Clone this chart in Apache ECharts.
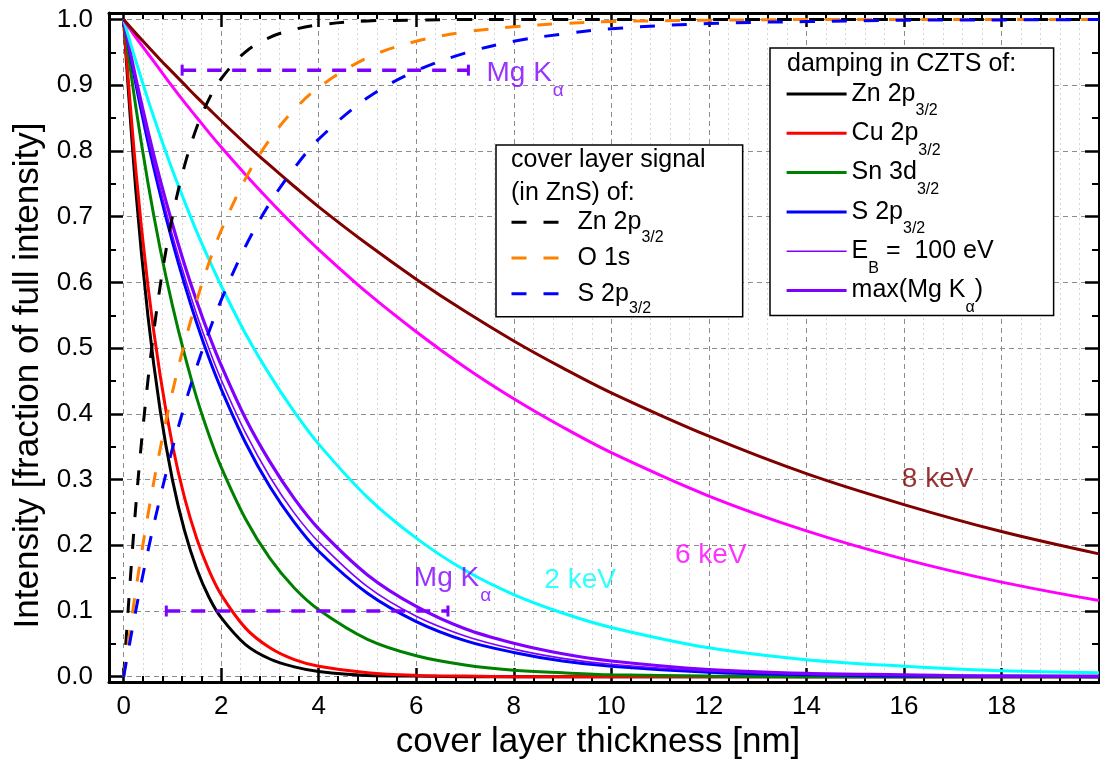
<!DOCTYPE html>
<html><head><meta charset="utf-8">
<script src="https://cdn.jsdelivr.net/npm/echarts@6/dist/echarts.min.js"></script>
<style>html,body{margin:0;padding:0;background:#fff}#chart{width:1100px;height:763px}</style>
</head><body><div id="chart"></div>
<script>
// ---- data ----
const thickness = [0, 0.25, 0.5, 0.75, 1, 1.25, 1.5, 1.75, 2, 2.5, 3, 3.5, 4, 5, 6, 7, 8, 9, 10, 12, 14, 16, 18, 20];

// damping in CZTS
const dampZn    = [1, 0.740, 0.548, 0.405, 0.300, 0.222, 0.164, 0.121, 0.090, 0.049, 0.027, 0.015, 0.008, 0.002, 0.001, 0, 0, 0, 0, 0, 0, 0, 0, 0];
const dampCu    = [1, 0.771, 0.594, 0.458, 0.353, 0.272, 0.210, 0.162, 0.125, 0.074, 0.044, 0.026, 0.016, 0.006, 0.002, 0.001, 0, 0, 0, 0, 0, 0, 0, 0];
const dampSn    = [1, 0.867, 0.751, 0.651, 0.565, 0.490, 0.424, 0.368, 0.319, 0.240, 0.180, 0.135, 0.102, 0.057, 0.032, 0.018, 0.010, 0.006, 0.003, 0.001, 0, 0, 0, 0];
const dampS     = [1, 0.902, 0.813, 0.734, 0.662, 0.597, 0.538, 0.485, 0.438, 0.356, 0.289, 0.235, 0.191, 0.127, 0.084, 0.055, 0.037, 0.024, 0.016, 0.007, 0.003, 0.001, 0.001, 0];
const damp100eV = [1, 0.906, 0.820, 0.743, 0.672, 0.609, 0.551, 0.499, 0.452, 0.371, 0.304, 0.249, 0.205, 0.137, 0.092, 0.062, 0.042, 0.028, 0.019, 0.009, 0.004, 0.002, 0.001, 0];
const dampMgKa  = [1, 0.911, 0.830, 0.756, 0.689, 0.627, 0.571, 0.520, 0.474, 0.393, 0.327, 0.271, 0.225, 0.155, 0.107, 0.073, 0.051, 0.035, 0.024, 0.011, 0.005, 0.003, 0.001, 0.001];
const damp2keV  = [1, 0.937, 0.878, 0.823, 0.771, 0.723, 0.677, 0.635, 0.595, 0.522, 0.459, 0.403, 0.354, 0.273, 0.211, 0.162, 0.125, 0.097, 0.075, 0.044, 0.026, 0.016, 0.009, 0.006];
const damp6keV  = [1, 0.973, 0.948, 0.923, 0.898, 0.874, 0.851, 0.828, 0.806, 0.764, 0.724, 0.686, 0.650, 0.584, 0.525, 0.471, 0.423, 0.380, 0.341, 0.275, 0.222, 0.179, 0.144, 0.116];
const damp8keV  = [1, 0.979, 0.959, 0.939, 0.920, 0.901, 0.882, 0.864, 0.846, 0.811, 0.778, 0.746, 0.715, 0.658, 0.605, 0.556, 0.511, 0.470, 0.432, 0.366, 0.309, 0.262, 0.221, 0.187];

// cover layer signal (in ZnS)
const coverZn = [0, 0.260, 0.452, 0.595, 0.700, 0.778, 0.836, 0.879, 0.910, 0.951, 0.973, 0.985, 0.992, 0.998, 0.999, 1, 1, 1, 1, 1, 1, 1, 1, 1];
const coverO  = [0, 0.132, 0.247, 0.347, 0.433, 0.508, 0.573, 0.630, 0.679, 0.758, 0.818, 0.863, 0.897, 0.942, 0.967, 0.981, 0.989, 0.994, 0.997, 0.999, 1, 1, 1, 1];
const coverS  = [0, 0.101, 0.192, 0.273, 0.347, 0.413, 0.472, 0.525, 0.573, 0.655, 0.721, 0.774, 0.818, 0.881, 0.922, 0.949, 0.967, 0.978, 0.986, 0.994, 0.997, 0.999, 0.9995, 1];

// Mg K-alpha ranges (x from, x to, y level)
const mgKaUpperRange = [[1.2, 0.923], [7.07, 0.923]];
const mgKaLowerRange = [[0.875, 0.1], [6.65, 0.1]];

// text annotations
const energyLabels = [
  { text: '8 keV', x: 16.69, y: 0.300 },
  { text: '6 keV', x: 12.04, y: 0.185 },
  { text: '2 keV', x: 9.36,  y: 0.147 }
];
const mgKaLabels = [
  { x: 7.44, y: 0.918 },
  { x: 5.95, y: 0.150 }
];

// ---- chart ----
const FONT = "'Liberation Sans', Arial, Helvetica, sans-serif";
const PURPLE = '#8000ff';
const chart = echarts.init(document.getElementById('chart'), null, { renderer: 'canvas' });
const pts = vals => thickness.map((x, i) => [x, vals[i]]);

const dampDefs = [
  { name: 'Zn 2p3/2',    vals: dampZn,    color: '#000000', width: 3 },
  { name: 'Cu 2p3/2',    vals: dampCu,    color: '#ff0000', width: 3 },
  { name: 'Sn 3d3/2',    vals: dampSn,    color: '#008000', width: 3 },
  { name: 'S 2p3/2',     vals: dampS,     color: '#0000ff', width: 3 },
  { name: 'EB = 100 eV', vals: damp100eV, color: PURPLE,    width: 1.6 },
  { name: 'max(Mg Ka)',  vals: dampMgKa,  color: PURPLE,    width: 3.2 },
  { name: '2 keV',       vals: damp2keV,  color: '#00ffff', width: 3 },
  { name: '6 keV',       vals: damp6keV,  color: '#ff00ff', width: 3 },
  { name: '8 keV',       vals: damp8keV,  color: '#800000', width: 3 }
];
const coverDefs = [
  { name: 'Zn 2p3/2 (ZnS)', vals: coverZn, color: '#000000' },
  { name: 'O 1s (ZnS)',     vals: coverO,  color: '#ff8000' },
  { name: 'S 2p3/2 (ZnS)',  vals: coverS,  color: '#0000ff' }
];
const energyColors = ['#800000', '#ff00ff', '#00ffff'];

const series = [];
dampDefs.forEach(d => series.push({
  type: 'line', name: d.name, data: pts(d.vals), symbol: 'none', smooth: 0.35,
  lineStyle: { color: d.color, width: d.width }, itemStyle: { color: d.color }, silent: true, z: 3
}));
coverDefs.forEach(d => series.push({
  type: 'line', name: d.name, data: pts(d.vals), symbol: 'none', smooth: 0.35,
  lineStyle: { color: d.color, width: 3, type: [15, 17] }, itemStyle: { color: d.color }, silent: true, z: 4
}));
[mgKaUpperRange, mgKaLowerRange].forEach(r => series.push({
  type: 'line', name: 'range', data: r, symbol: 'rect', symbolSize: [3, 11], showSymbol: true,
  lineStyle: { color: PURPLE, width: 3.5, type: [14, 11] }, itemStyle: { color: PURPLE }, silent: true, z: 5
}));
energyLabels.forEach((l, i) => series.push({
  type: 'scatter', name: 'lbl' + i, data: [[l.x, l.y]], symbolSize: 0, silent: true, z: 6,
  label: { show: true, position: 'inside', formatter: l.text, color: energyColors[i], fontSize: 28, fontFamily: FONT }
}));
mgKaLabels.forEach((l, i) => series.push({
  type: 'scatter', name: 'mg' + i, data: [[l.x, l.y]], symbolSize: 0, silent: true, z: 6,
  label: { show: true, position: 'right', distance: 0, formatter: '{m|Mg K}{s|α}',
    rich: { m: { fontSize: 28, color: PURPLE, fontFamily: FONT },
            s: { fontSize: 19, color: PURPLE, fontFamily: FONT, padding: [35, 0, 0, 1] } } }
}));

const legendTextB = {
  'Zn 2p3/2': '{m|Zn 2p}{s|3/2}', 'Cu 2p3/2': '{m|Cu 2p}{s|3/2}', 'Sn 3d3/2': '{m|Sn 3d}{s|3/2}',
  'S 2p3/2': '{m|S 2p}{s|3/2}', 'EB = 100 eV': '{m|E}{s|B}{m| =  100 eV}', 'max(Mg Ka)': '{m|max(Mg K}{s|α}{m|)}'
};
const legendTextA = {
  'Zn 2p3/2 (ZnS)': '{m|Zn 2p}{s|3/2}', 'O 1s (ZnS)': '{m|O 1s}{s| }', 'S 2p3/2 (ZnS)': '{m|S 2p}{s|3/2}'
};

const xCommon = { type: 'value', min: -0.3, max: 20, minInterval: 2, maxInterval: 2, splitNumber: 10 };
const yCommon = { type: 'value', min: -0.008, max: 1.01, minInterval: 0.1, maxInterval: 0.1, splitNumber: 10 };
const lineAx = { show: true, onZero: false, lineStyle: { color: '#000', width: 3 } };
const tickMaj = { show: true, inside: true, length: 14, lineStyle: { color: '#000', width: 2.5 } };

chart.setOption({
  animation: false,
  backgroundColor: '#fff',
  grid: { left: 109, top: 13, right: 1, bottom: 81, containLabel: false, outerBoundsMode: 'none' },
  xAxis: [
    Object.assign({}, xCommon, {
      position: 'bottom', axisLine: lineAx, axisTick: tickMaj,
      minorTick: { show: true, splitNumber: 5, length: 6, lineStyle: { color: '#000', width: 2 } },
      axisLabel: { show: true, margin: 12, fontSize: 26, color: '#000', fontFamily: FONT, showMinLabel: false, showMaxLabel: false },
      splitLine: { show: true, lineStyle: { color: '#8c8c8c', width: 1, type: [5, 4] } },
      minorSplitLine: { show: true, lineStyle: { color: '#d6d6d6', width: 1, type: [2, 3] } },
      name: 'cover layer thickness [nm]', nameLocation: 'middle', nameGap: 42,
      nameTextStyle: { fontSize: 35, color: '#000', fontFamily: FONT, padding: [0, 12, 0, 0] }
    }),
    Object.assign({}, xCommon, {
      position: 'top', axisLine: lineAx, axisTick: tickMaj,
      minorTick: { show: true, splitNumber: 5, length: 6, lineStyle: { color: '#000', width: 2 } },
      axisLabel: { show: false }, splitLine: { show: false }
    })
  ],
  yAxis: [
    Object.assign({}, yCommon, {
      position: 'left', axisLine: lineAx, axisTick: tickMaj,
      minorTick: { show: true, splitNumber: 2, length: 7, lineStyle: { color: '#000', width: 2 } },
      axisLabel: { show: true, margin: 16, fontSize: 26, color: '#000', fontFamily: FONT, showMinLabel: false, showMaxLabel: false,
        formatter: v => v.toFixed(1) },
      splitLine: { show: true, lineStyle: { color: '#8c8c8c', width: 1, type: [5, 4] } },
      name: 'Intensity [fraction of full intensity]', nameLocation: 'middle', nameGap: 61,
      nameTextStyle: { fontSize: 35, color: '#000', fontFamily: FONT, padding: [0, 56, 0, 0] }
    }),
    Object.assign({}, yCommon, {
      position: 'right', axisLine: lineAx, axisTick: tickMaj,
      minorTick: { show: true, splitNumber: 2, length: 7, lineStyle: { color: '#000', width: 2 } },
      axisLabel: { show: false }, splitLine: { show: false }
    })
  ],
  legend: [
    {
      data: dampDefs.slice(0, 6).map(d => ({ name: d.name, lineStyle: { width: d.width, color: d.color } })),
      orient: 'vertical', left: 770, top: 48,
      padding: [21, 60, 0, 15], itemGap: -10.7, itemWidth: 60, itemHeight: 14, selectedMode: false,
      backgroundColor: '#fff', borderColor: '#000', borderWidth: 1.5, borderRadius: 0,
      itemStyle: { opacity: 0 },
      formatter: n => legendTextB[n],
      textStyle: { color: '#000', fontFamily: FONT, fontSize: 25,
        rich: { m: { fontSize: 25, lineHeight: 33, color: '#000', fontFamily: FONT },
                s: { fontSize: 16, lineHeight: 33, color: '#000', fontFamily: FONT, padding: [34, 0, 0, 0] } } }
    },
    {
      data: coverDefs.map(d => ({ name: d.name, lineStyle: { width: 3, color: d.color, type: [15, 17] } })),
      orient: 'vertical', left: 496, top: 145,
      padding: [54.3, 79, 0, 14], itemGap: -10.3, itemWidth: 48, itemHeight: 14, selectedMode: false,
      backgroundColor: '#fff', borderColor: '#000', borderWidth: 1.5, borderRadius: 0,
      itemStyle: { opacity: 0 },
      formatter: n => legendTextA[n],
      textStyle: { color: '#000', fontFamily: FONT, fontSize: 25,
        rich: { m: { fontSize: 25, lineHeight: 33, color: '#000', fontFamily: FONT, padding: [0, 0, 0, 13] },
                s: { fontSize: 16, lineHeight: 33, color: '#000', fontFamily: FONT, padding: [30, 0, 0, 0] } } }
    }
  ],
  graphic: [
    { type: 'text', x: 787, y: 64, z: 100, style: { text: 'damping in CZTS of:', font: '25px ' + FONT, fill: '#000', verticalAlign: 'middle' } },
    { type: 'text', x: 511, y: 160, z: 100, style: { text: 'cover layer signal', font: '25px ' + FONT, fill: '#000', verticalAlign: 'middle' } },
    { type: 'text', x: 511, y: 193, z: 100, style: { text: '(in ZnS) of:', font: '25px ' + FONT, fill: '#000', verticalAlign: 'middle' } }
  ],
  series: series
});
</script>
</body></html>
